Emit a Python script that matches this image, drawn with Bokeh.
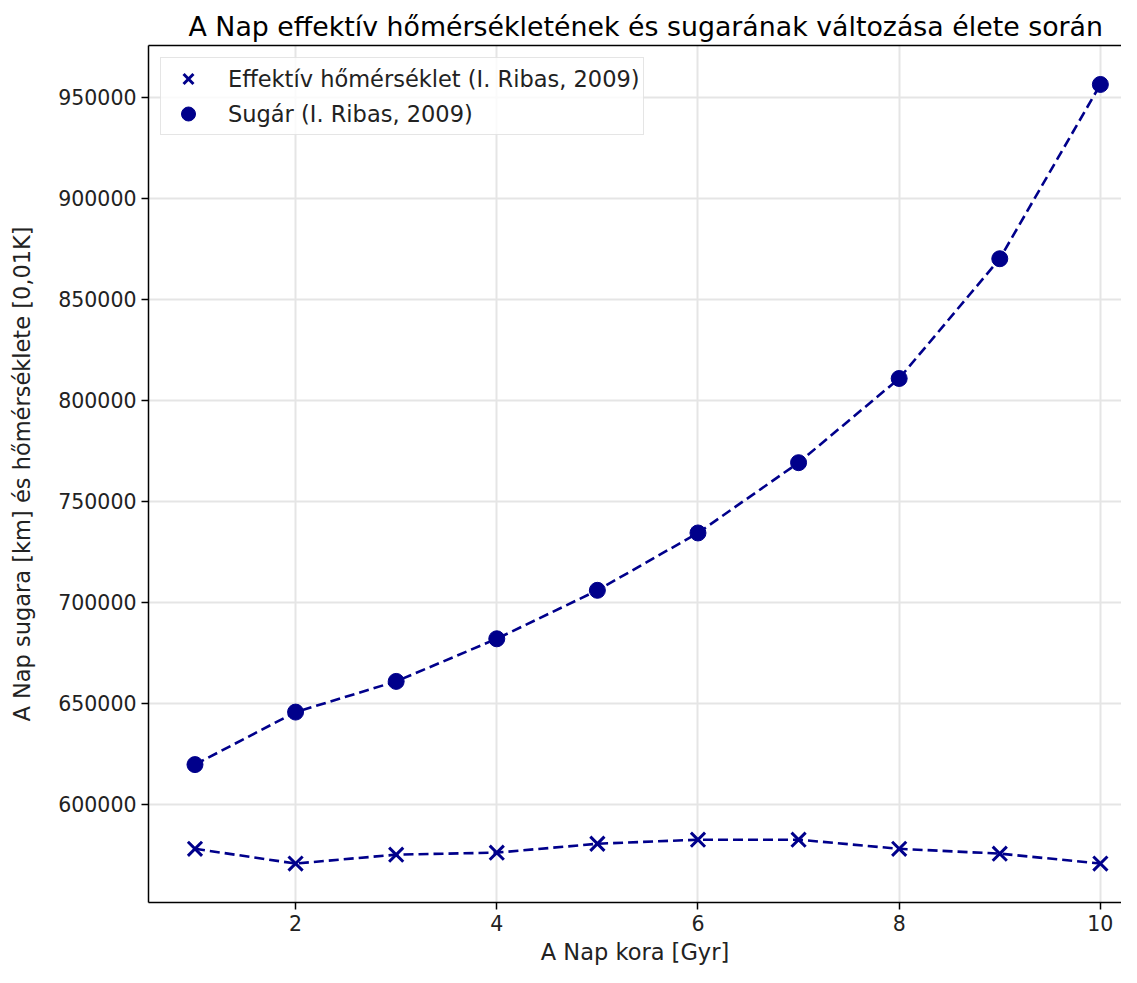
from bokeh.plotting import figure
from bokeh.models import LinearAxis, FixedTicker, Range1d, Legend, LegendItem, BasicTickFormatter, Grid
from bokeh.embed import file_html
from bokeh.resources import INLINE

# Data
age_gyr = [1, 2, 3, 4, 5, 6, 7, 8, 9, 10]
radius_km = [619600, 645600, 660800, 681900, 705900, 734300, 769100, 810800, 870100, 956400]
temp_centik = [577900, 570600, 575000, 576000, 580400, 582400, 582400, 577900, 575500, 570600]
x_ticks = [2, 4, 6, 8, 10]
y_ticks = [600000, 650000, 700000, 750000, 800000, 850000, 900000, 950000]

FONT = "DejaVu Sans"
COL = "#00008b"

p = figure(width=1121, height=967, output_backend="svg", toolbar_location=None,
           x_range=Range1d(0.538, 10.21), y_range=Range1d(551310, 975690),
           x_axis_type=None, y_axis_type=None,
           min_border_left=148, min_border_right=0, min_border_top=45, min_border_bottom=63)

p.title.text = "A Nap effektív hőmérsékletének és sugarának változása élete során"
p.title.text_font = FONT
p.title.text_font_size = "26.8px"
p.title.text_font_style = "normal"
p.title.align = "left"
p.title.offset = 40
p.title.text_color = "#000000"
p.title.standoff = 8

p.outline_line_color = None
p.background_fill_color = "white"
p.border_fill_color = "white"

xaxis = LinearAxis(ticker=FixedTicker(ticks=x_ticks), axis_label="A Nap kora [Gyr]")
yaxis = LinearAxis(ticker=FixedTicker(ticks=y_ticks), axis_label="A Nap sugara [km] és hőmérséklete [0,01K]",
                   formatter=BasicTickFormatter(use_scientific=False))
for ax in (xaxis, yaxis):
    ax.major_label_text_font = FONT
    ax.major_label_text_font_size = "20.5px"
    ax.major_label_text_color = "#222222"
    ax.axis_label_text_font = FONT
    ax.axis_label_text_font_size = "22.5px"
    ax.axis_label_text_font_style = "normal"
    ax.axis_label_text_color = "#222222"
    ax.axis_line_color = "black"
    ax.axis_line_width = 1.5
    ax.major_tick_line_color = "black"
    ax.major_tick_line_width = 1.5
    ax.major_tick_out = 7
    ax.major_tick_in = 0
    ax.minor_tick_out = 0
    ax.minor_tick_in = 0
    ax.major_label_standoff = 5
xaxis.axis_label_standoff = 5
yaxis.axis_label_standoff = 20
p.add_layout(xaxis, "below")
p.add_layout(yaxis, "left")

# Top spine
top = LinearAxis(ticker=FixedTicker(ticks=[]), major_label_text_font_size="0px",
                 major_tick_out=0, minor_tick_out=0, major_tick_in=0, minor_tick_in=0,
                 axis_line_color="black", axis_line_width=1.5)
p.add_layout(top, "above")

p.add_layout(Grid(dimension=0, ticker=FixedTicker(ticks=x_ticks), grid_line_color="#e5e5e5", grid_line_width=2))
p.add_layout(Grid(dimension=1, ticker=FixedTicker(ticks=y_ticks), grid_line_color="#e5e5e5", grid_line_width=2))

p.line(age_gyr, temp_centik, line_color=COL, line_width=2.6, line_dash="10 5")
p.line(age_gyr, radius_km, line_color=COL, line_width=2.6, line_dash="10 5")
r_t = p.scatter(age_gyr, temp_centik, marker="x", size=20, line_color=COL, line_width=3)
r_r = p.scatter(age_gyr, radius_km, marker="circle", size=16, fill_color=COL, line_color=COL)

legend = Legend(items=[LegendItem(label="Effektív hőmérséklet (I. Ribas, 2009)", renderers=[r_t]),
                       LegendItem(label="Sugár (I. Ribas, 2009)", renderers=[r_r])],
                location="top_left")
legend.margin = 12
legend.padding = 3
legend.spacing = 0
legend.label_text_font = FONT
legend.label_text_font_size = "22.5px"
legend.label_text_color = "#222222"
legend.label_standoff = 16
legend.glyph_width = 48
legend.glyph_height = 35
legend.label_height = 24
legend.border_line_color = "#cccccc"
legend.border_line_width = 1.5
legend.background_fill_alpha = 0.8
p.add_layout(legend)

open("out.html", "w").write(file_html(p, INLINE))
